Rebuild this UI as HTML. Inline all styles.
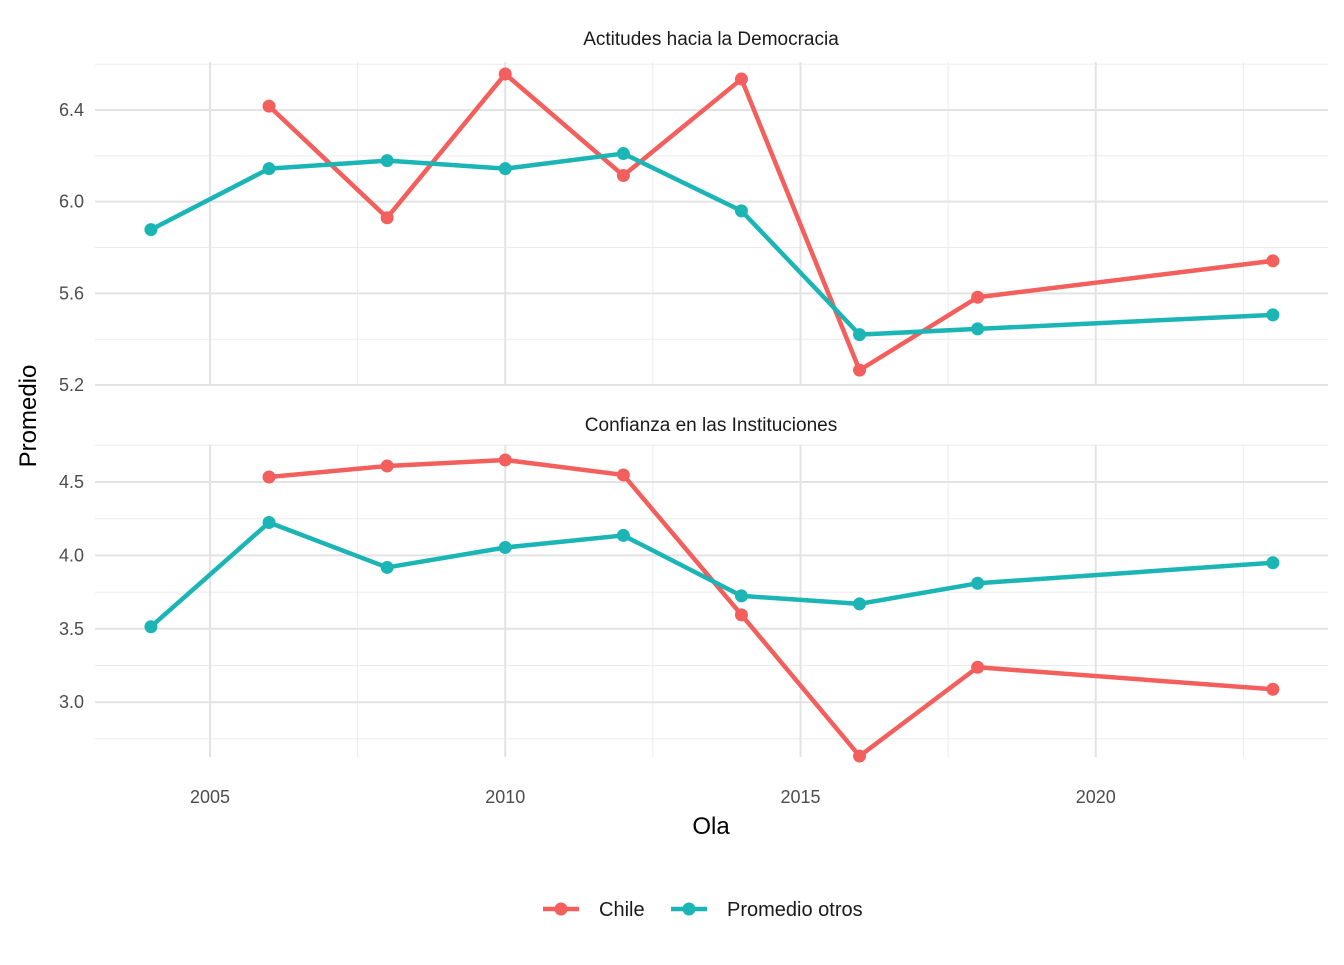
<!DOCTYPE html>
<html><head><meta charset="utf-8"><style>
body{margin:0;background:#fff;font-family:"Liberation Sans",Arial,sans-serif}
</style></head><body>
<svg id="c" width="1344" height="960" xmlns="http://www.w3.org/2000/svg"></svg>
<script>
const years=[2004,2006,2008,2010,2012,2014,2016,2018,2023];
const chileDem=[null,6.417,5.93,6.557,6.114,6.535,5.265,5.583,5.742];
const otrosDem=[5.878,6.144,6.179,6.144,6.21,5.96,5.42,5.445,5.506];
const chileConf=[null,4.534,4.609,4.65,4.548,3.595,2.633,3.238,3.088];
const otrosConf=[3.514,4.224,3.918,4.054,4.136,3.724,3.67,3.81,3.95];
const xTicks=[2005,2010,2015,2020];
const demTicks=[5.2,5.6,6.0,6.4];
const confTicks=[3.0,3.5,4.0,4.5];
const NS="http://www.w3.org/2000/svg",svg=document.getElementById('c');
function el(t,a,txt){const e=document.createElementNS(NS,t);for(const k in a)e.setAttribute(k,a[k]);if(txt!==undefined)e.textContent=txt;svg.appendChild(e);return e;}
const X=v=>210+(v-2005)*59.05;
const L=95,R=1328;
const panels=[
 {title:"Actitudes hacia la Democracia",top:62,bot:385,y:v=>110+(6.4-v)*229.2,ticks:demTicks,minor:[5.4,5.8,6.2,6.6],fmt:v=>v.toFixed(1),s:[chileDem,otrosDem],ty:38,name:'democracia'},
 {title:"Confianza en las Instituciones",top:445,bot:757,y:v=>482+(4.5-v)*146.8,ticks:confTicks,minor:[2.75,3.25,3.75,4.25,4.75],fmt:v=>v.toFixed(1),s:[chileConf,otrosConf],ty:424,name:'confianza'}
];
const cols=["#F25F5C","#1BB5B5"];
panels.forEach(p=>{
 [2002.5,2007.5,2012.5,2017.5,2022.5].forEach(v=>{const x=X(v);if(x>=L-1&&x<=R){const e=el('line',{x1:x,x2:x,y1:p.top,y2:p.bot,stroke:'#ebebeb','stroke-width':1});}});
 p.minor.forEach(v=>{const y=p.y(v);if(y>=p.top-2&&y<=p.bot+1){const e=el('line',{x1:L,x2:R,y1:y,y2:y,stroke:'#ebebeb','stroke-width':1});}});
 xTicks.forEach(v=>{const e=el('line',{x1:X(v),x2:X(v),y1:p.top,y2:p.bot,stroke:'#e3e3e3','stroke-width':2});});
 p.ticks.forEach(v=>{const y=p.y(v);const e=el('line',{x1:L,x2:R,y1:y,y2:y,stroke:'#e3e3e3','stroke-width':2});
  const t=el('text',{x:84,y:y+6,'text-anchor':'end','font-size':18,fill:'#4d4d4d'},p.fmt(v));});
 const tt=el('text',{x:711,y:p.ty+7,'text-anchor':'middle','font-size':19,fill:'#1a1a1a'},p.title);
 p.s.forEach((s,i)=>{
  const pts=[];s.forEach((v,j)=>{if(v!==null)pts.push([X(years[j]),p.y(v)]);});
  const l=el('polyline',{points:pts.map(q=>q.join(',')).join(' '),fill:'none',stroke:cols[i],'stroke-width':4.5,'stroke-linejoin':'round'});
  
  pts.forEach(q=>{const c=el('circle',{cx:q[0],cy:q[1],r:6.5,fill:cols[i]});});
 });
});
xTicks.forEach(v=>{const t=el('text',{x:X(v),y:803,'text-anchor':'middle','font-size':18,fill:'#4d4d4d'},v);});
let t=el('text',{x:711,y:834,'text-anchor':'middle','font-size':24,fill:'#000'},'Ola');
t=el('text',{x:0,y:0,'text-anchor':'middle','font-size':24,fill:'#000',transform:'translate(36,416) rotate(-90)'},'Promedio');
[[543,'Chile',0],[671,'Promedio otros',1]].forEach(([x,lab,i])=>{
 const l=el('line',{x1:x,x2:x+36,y1:909,y2:909,stroke:cols[i],'stroke-width':4.5});
 const c=el('circle',{cx:x+18,cy:909,r:6.5,fill:cols[i]});
 const tx=el('text',{x:x+56,y:916,'font-size':20,fill:'#1a1a1a'},lab);
});
</script>
</body></html>
